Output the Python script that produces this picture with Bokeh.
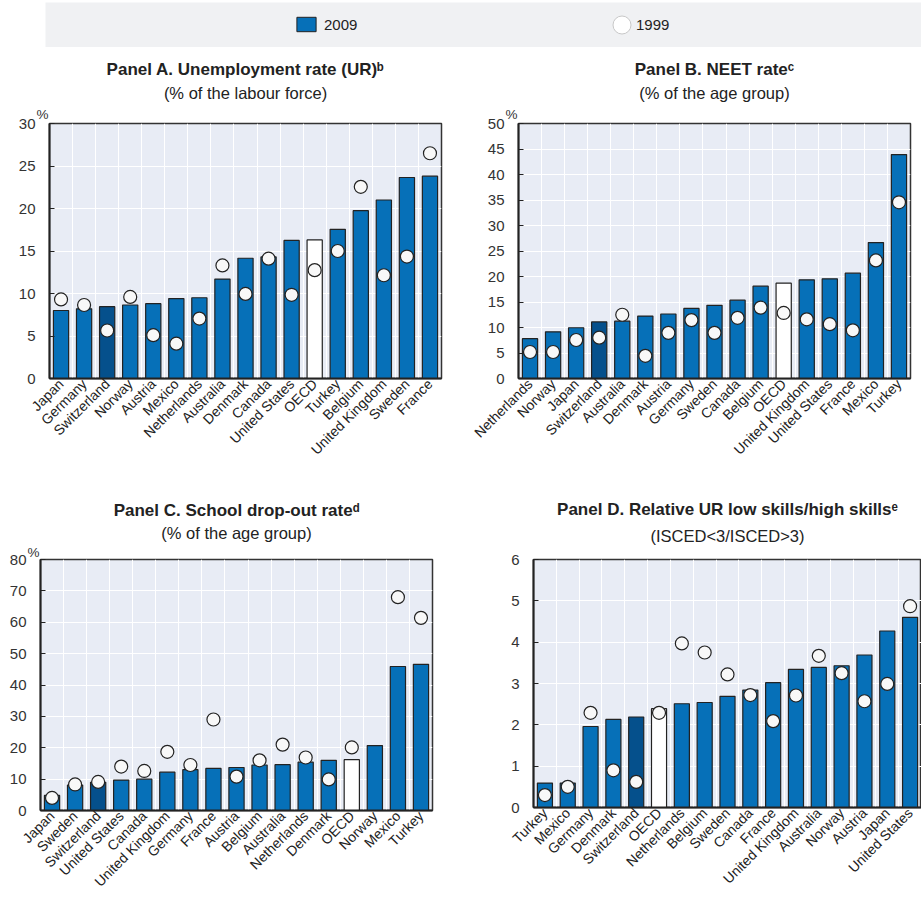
import math
from bokeh.plotting import figure
from bokeh.models import (ColumnDataSource, FixedTicker, Title, Legend,
                          LegendItem, Range1d, Spacer)
from bokeh.layouts import row, column
from bokeh.embed import file_html
from bokeh.resources import INLINE

FONT = "Liberation Sans"
BLUE = "#0670b8"
DARK = "#05508c"
WHITE = "#ffffff"
BG = "#e8ecf5"
INK = "#222222"

# ---------------- data ----------------
a_countries = ["Japan", "Germany", "Switzerland", "Norway", "Austria", "Mexico",
               "Netherlands", "Australia", "Denmark", "Canada", "United States",
               "OECD", "Turkey", "Belgium", "United Kingdom", "Sweden", "France"]
a_2009 = [8.0, 8.2, 8.45, 8.65, 8.8, 9.4, 9.5, 11.7, 14.15, 14.3, 16.25, 16.3,
          17.55, 19.75, 21.0, 23.65, 23.8]
a_1999 = [9.3, 8.65, 5.65, 9.6, 5.1, 4.1, 7.05, 13.3, 9.95, 14.1, 9.85, 12.75,
          15.0, 22.55, 12.15, 14.35, 26.5]
a_yticks = [0, 5, 10, 15, 20, 25, 30]

b_countries = ["Netherlands", "Norway", "Japan", "Switzerland", "Australia", "Denmark",
               "Austria", "Germany", "Sweden", "Canada", "Belgium", "OECD",
               "United Kingdom", "United States", "France", "Mexico", "Turkey"]
b_2009 = [7.8, 9.15, 9.95, 11.1, 11.25, 12.25, 12.65, 13.75, 14.35, 15.35, 18.1,
          18.7, 19.35, 19.55, 20.65, 26.65, 43.9]
b_1999 = [5.2, 5.2, 7.55, 8.0, 12.5, 4.45, 8.95, 11.45, 8.95, 11.9, 13.9, 12.85,
          11.6, 10.65, 9.45, 23.15, 34.55]
b_yticks = [0, 5, 10, 15, 20, 25, 30, 35, 40, 45, 50]

c_countries = ["Japan", "Sweden", "Switzerland", "United States", "Canada",
               "United Kingdom", "Germany", "France", "Austria", "Belgium", "Australia",
               "Netherlands", "Denmark", "OECD", "Norway", "Mexico", "Turkey"]
c_2009 = [4.8, 8.1, 9.0, 9.7, 10.0, 12.2, 13.0, 13.4, 13.7, 14.5, 14.6, 15.4, 16.0,
          16.2, 20.7, 45.9, 46.6]
c_1999 = [4.0, 8.3, 9.1, 14.0, 12.6, 18.7, 14.5, 29.0, 10.8, 16.0, 21.0, 16.9, 9.9,
          20.1, float("nan"), 68.0, 61.4]
c_yticks = [0, 10, 20, 30, 40, 50, 60, 70, 80]

d_countries = ["Turkey", "Mexico", "Germany", "Denmark", "Switzerland", "OECD",
               "Netherlands", "Belgium", "Sweden", "Canada", "France", "United Kingdom",
               "Australia", "Norway", "Austria", "Japan", "United States"]
d_2009 = [0.59, 0.59, 1.96, 2.13, 2.19, 2.39, 2.51, 2.54, 2.69, 2.84, 3.02, 3.34,
          3.39, 3.43, 3.69, 4.27, 4.6]
d_1999 = [0.30, 0.50, 2.29, 0.90, 0.62, 2.29, 3.97, 3.75, 3.22, 2.72, 2.09, 2.71,
          3.67, 3.25, 2.57, 2.99, 4.87]
d_yticks = [0, 1, 2, 3, 4, 5, 6]

series_labels = ["2009", "1999"]


def panel(countries, v09, v99, yticks, title, subtitle, pct, pct_so, sub_so, main_so,
          left, right, top, bottom, fw, fh, t_off):
    n = len(countries)
    xs = list(range(n))
    colors = [DARK if c == "Switzerland" else (WHITE if c == "OECD" else BLUE)
              for c in countries]
    src = ColumnDataSource(dict(x=xs, y09=v09, y99=v99, color=colors))
    p = figure(frame_width=fw, frame_height=fh,
               x_range=Range1d(-0.5, n - 0.5), y_range=Range1d(yticks[0], yticks[-1]),
               output_backend="svg", toolbar_location=None, tools="",
               min_border_left=left, min_border_right=right,
               min_border_top=top, min_border_bottom=bottom)
    p.background_fill_color = BG
    p.border_fill_color = "white"
    p.outline_line_color = "#333333"
    p.outline_line_width = 1.5

    p.vbar(x="x", top="y09", width=0.66, source=src, fill_color="color",
           line_color=INK, line_width=1.2)
    p.scatter(x="x", y="y99", source=src, size=13, marker="circle",
              fill_color="#f8f8f8", line_color=INK, line_width=1.2)

    # axes
    p.xaxis.ticker = FixedTicker(ticks=xs)
    p.xaxis.major_label_overrides = {i: c for i, c in enumerate(countries)}
    p.xaxis.major_label_orientation = math.pi / 4
    p.xaxis.major_tick_in = 0
    p.xaxis.major_tick_out = 0
    p.xaxis.minor_tick_line_color = None
    p.xaxis.major_label_standoff = 3
    p.xaxis.major_label_text_font = FONT
    p.xaxis.major_label_text_font_size = "14px"
    p.xaxis.major_label_text_color = INK
    p.xaxis.axis_line_color = INK
    p.xaxis.axis_line_width = 2

    p.yaxis.ticker = FixedTicker(ticks=yticks)
    p.yaxis.major_tick_in = 5
    p.yaxis.major_tick_out = 0
    p.yaxis.major_tick_line_color = INK
    p.yaxis.minor_tick_line_color = None
    p.yaxis.major_label_standoff = 14
    p.yaxis.major_label_text_font = FONT
    p.yaxis.major_label_text_font_size = "15px"
    p.yaxis.major_label_text_color = "#333333"
    p.yaxis.axis_line_color = INK
    p.yaxis.axis_line_width = 2

    p.xgrid.ticker = FixedTicker(ticks=[i + 0.5 for i in range(n - 1)])
    p.xgrid.grid_line_color = "white"
    p.xgrid.grid_line_width = 1
    p.ygrid.grid_line_color = "white"
    p.ygrid.grid_line_width = 1

    if pct:
        p.add_layout(Title(text="%", align="left", offset=-13, text_font=FONT,
                           text_font_size="13.5px", text_font_style="normal",
                           text_color="#333333", standoff=pct_so), "above")
    else:
        # thin blank band between frame and subtitle
        p.add_layout(Title(text=" ", text_font=FONT, text_font_size="8px",
                           standoff=pct_so), "above")
    p.add_layout(Title(text=subtitle, align="center", text_font=FONT,
                       text_font_size="16.5px", text_font_style="normal",
                       text_color=INK, standoff=sub_so, offset=t_off), "above")
    p.add_layout(Title(text=title, align="center", text_font=FONT,
                       text_font_size="17px", text_font_style="bold",
                       text_color=INK, standoff=main_so, offset=t_off), "above")
    return p


pa = panel(a_countries, a_2009, a_1999, a_yticks,
           "Panel A. Unemployment rate (UR)\u1d47", "(% of the labour force)",
           True, 4, 2, 4, 49, 19, 76, 97, 392, 255, -14)
pb = panel(b_countries, b_2009, b_1999, b_yticks,
           "Panel B. NEET rate\u1d9c", "(% of the age group)",
           True, 4, 2, 4, 58, 11, 75, 98, 392, 255, 8)
pc = panel(c_countries, c_2009, c_1999, c_yticks,
           "Panel C. School drop-out rate\u1d48", "(% of the age group)",
           True, 0, 1, 4, 40, 28, 84, 90, 392, 251, -5)
pd_ = panel(d_countries, d_2009, d_1999, d_yticks,
            "Panel D. Relative UR low skills/high skills\u1d49", "(ISCED<3/ISCED>3)",
            False, 0, 8, 4, 73, 0, 84, 93, 388, 248, -1)

# ---------------- legend band ----------------
lf = figure(width=876, height=45, output_backend="svg", toolbar_location=None, tools="",
            x_range=Range1d(0, 1), y_range=Range1d(0, 1),
            min_border=0, min_border_left=0, min_border_right=0,
            min_border_top=0, min_border_bottom=0)
lf.axis.visible = False
lf.grid.visible = False
lf.outline_line_color = None
lf.background_fill_color = "#f0f1f3"
lf.border_fill_color = "#f0f1f3"
# off-screen sample glyphs, only used as legend swatches
r1 = lf.vbar(x=[5], top=[5], bottom=[4], width=0.5, fill_color=BLUE,
             line_color=INK, line_width=1)
r2 = lf.scatter(x=[5], y=[5], size=18, marker="circle", fill_color="white",
                line_color="#c8c8c8", line_width=1)
r3 = lf.scatter(x=[5], y=[5], size=1, marker="circle", fill_alpha=0, line_alpha=0)
common = dict(orientation="horizontal", label_text_font=FONT, label_text_font_size="15px",
              label_text_color=INK, label_height=18, background_fill_alpha=0,
              border_line_color=None, padding=0, margin=0)
leg1 = Legend(items=[LegendItem(label=series_labels[0], renderers=[r1])],
              location=(249, 14), glyph_width=24, glyph_height=18, label_standoff=6,
              **common)
leg2 = Legend(items=[LegendItem(label=" ", renderers=[r2])],
              location=(554, 0), glyph_width=45, glyph_height=45, label_standoff=0,
              **common)
leg3 = Legend(items=[LegendItem(label=series_labels[1], renderers=[r3])],
              location=(590, 14), glyph_width=1, glyph_height=18, label_standoff=0,
              **common)
lf.add_layout(leg1, "center")
lf.add_layout(leg2, "center")
lf.add_layout(leg3, "center")

layout = column(Spacer(width=10, height=2),
                row(Spacer(width=45, height=45), lf),
                row(pa, pb), row(pc, pd_))

open("out.html", "w").write(file_html(layout, INLINE))
